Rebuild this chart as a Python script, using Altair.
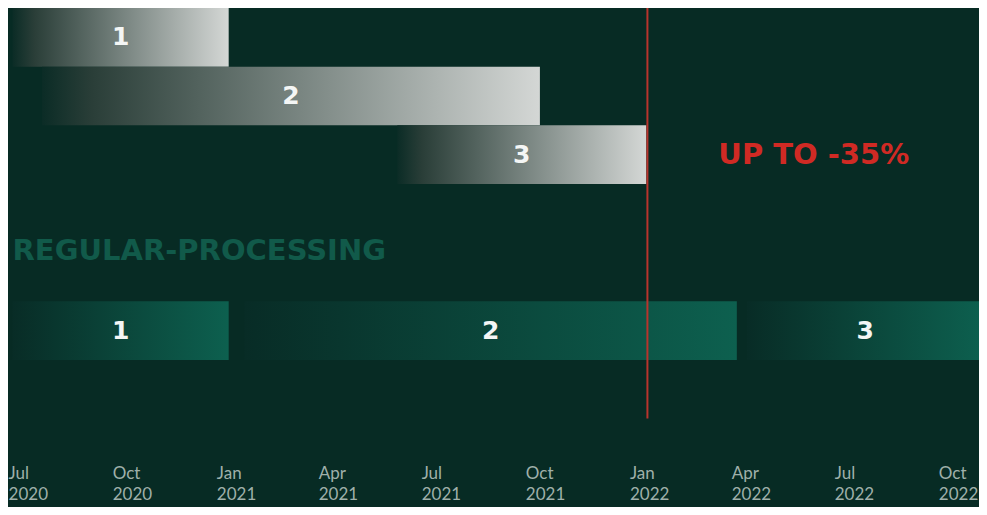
import altair as alt
import pandas as pd

# ---------------- data ----------------
BG = "#072b24"

bar_group = ["top", "top", "top", "bottom", "bottom", "bottom"]
bar_label = ["1", "2", "3", "1", "2", "3"]
bar_start = ["2020-06-19", "2020-07-15", "2021-05-25", "2020-06-19", "2021-01-10", "2022-03-30"]
bar_end = ["2020-12-27", "2021-09-28", "2021-12-31", "2020-12-27", "2022-03-21", "2022-10-25"]
bar_row = [0, 1, 2, 5, 5, 5]

tick_years = [2020, 2020, 2021, 2021, 2021, 2021, 2022, 2022, 2022, 2022]
tick_months = [7, 10, 1, 4, 7, 10, 1, 4, 7, 10]

marker_date = "2022-01-01"
marker_rows = [0, 7.0]

note_text = ["UP TO -35%"]
note_date = ["2022-05-28"]
note_row = [2.5]

section_text = ["REGULAR-PROCESSING"]
section_date = ["2020-06-19"]
section_row = [4.15]

domain_start = (2020, 6, 15)
domain_end = (2022, 10, 21)

# ---------------- tables ----------------
bars = pd.DataFrame({
    "group": bar_group,
    "label": bar_label,
    "start": [d + "T00:00:00" for d in bar_start],
    "end": [d + "T00:00:00" for d in bar_end],
    "row": bar_row,
})
marker = pd.DataFrame({"date": [marker_date + "T00:00:00"], "y0": [marker_rows[0]], "y1": [marker_rows[1]]})
note = pd.DataFrame({"text": note_text, "date": [d + "T00:00:00" for d in note_date], "row": note_row})
section = pd.DataFrame({"text": section_text, "date": [d + "T00:00:00" for d in section_date], "row": section_row})

xscale = alt.Scale(
    domain=[alt.DateTime(year=domain_start[0], month=domain_start[1], date=domain_start[2]),
            alt.DateTime(year=domain_end[0], month=domain_end[1], date=domain_end[2])],
    nice=False,
)
yscale = alt.Scale(domain=[0, 7.45], reverse=True, nice=False, zero=False)

xaxis = alt.Axis(
    values=[alt.DateTime(year=y, month=m, date=1) for y, m in zip(tick_years, tick_months)],
    labelExpr="[timeFormat(datum.value, '%b'), timeFormat(datum.value, '%Y')]",
    domain=False, ticks=False, grid=False, title=None,
    labelFont="Lato", labelFontSize=17, labelColor="#9fb0aa",
    labelAlign="left", labelOffset=-18, labelBaseline="top",
    labelPadding=20, labelLineHeight=21, labelFlush=False, labelOverlap=False, labelBound=False,
)

grad_top = alt.LinearGradient(
    gradient="linear", x1=0, x2=1, y1=0, y2=0,
    stops=[alt.GradientStop(color="#0b2c26", offset=0),
           alt.GradientStop(color="#2a3e38", offset=0.1),
           alt.GradientStop(color="#d4d7d5", offset=1)],
)
grad_bottom = alt.LinearGradient(
    gradient="linear", x1=0, x2=1, y1=0, y2=0,
    stops=[alt.GradientStop(color="#082c26", offset=0),
           alt.GradientStop(color="#0d604f", offset=1)],
)

base = alt.Chart(bars).transform_calculate(
    row_end="datum.row + 1",
    row_mid="datum.row + 0.5",
    mid="(toNumber(toDate(datum.start)) + toNumber(toDate(datum.end))) / 2",
)

top_bars = base.transform_filter("datum.group == 'top'").mark_rect(color=grad_top, clip=True).encode(
    x=alt.X("start:T", scale=xscale, axis=xaxis),
    x2="end:T",
    y=alt.Y("row:Q", scale=yscale, axis=None),
    y2="row_end:Q",
)
bottom_bars = base.transform_filter("datum.group == 'bottom'").mark_rect(color=grad_bottom, clip=True).encode(
    x=alt.X("start:T", scale=xscale, axis=xaxis),
    x2="end:T",
    y=alt.Y("row:Q", scale=yscale, axis=None),
    y2="row_end:Q",
)
bar_text = base.mark_text(
    font="DejaVu Sans", fontWeight="bold", fontSize=25, color="#f4f6f5",
    align="center", baseline="middle",
).encode(
    x=alt.X("mid:T", scale=xscale, axis=xaxis),
    y=alt.Y("row_mid:Q", scale=yscale, axis=None),
    text="label:N",
)

rule = alt.Chart(marker).mark_rule(color="#b8342d", strokeWidth=2).encode(
    x=alt.X("date:T", scale=xscale, axis=xaxis),
    y=alt.Y("y0:Q", scale=yscale, axis=None),
    y2="y1:Q",
)

note_mark = alt.Chart(note).mark_text(
    font="DejaVu Sans", fontWeight="bold", fontSize=29, color="#d02a24",
    align="center", baseline="middle",
).encode(
    x=alt.X("date:T", scale=xscale, axis=xaxis),
    y=alt.Y("row:Q", scale=yscale, axis=None),
    text="text:N",
)

section_mark = alt.Chart(section).mark_text(
    font="DejaVu Sans", fontWeight="bold", fontSize=29, color="#115a4a",
    align="left", baseline="middle",
).encode(
    x=alt.X("date:T", scale=xscale, axis=xaxis),
    y=alt.Y("row:Q", scale=yscale, axis=None),
    text="text:N",
)

chart = alt.layer(top_bars, bottom_bars, rule, bar_text, note_mark, section_mark).properties(
    width=971, height=437,
    autosize=alt.AutoSizeParams(type="none"),
    padding={"left": 0, "top": 0, "right": 0, "bottom": 62},
    background=BG,
).configure_view(stroke=None)

chart.save("out.html", embed_options={"renderer": "svg", "actions": False})
